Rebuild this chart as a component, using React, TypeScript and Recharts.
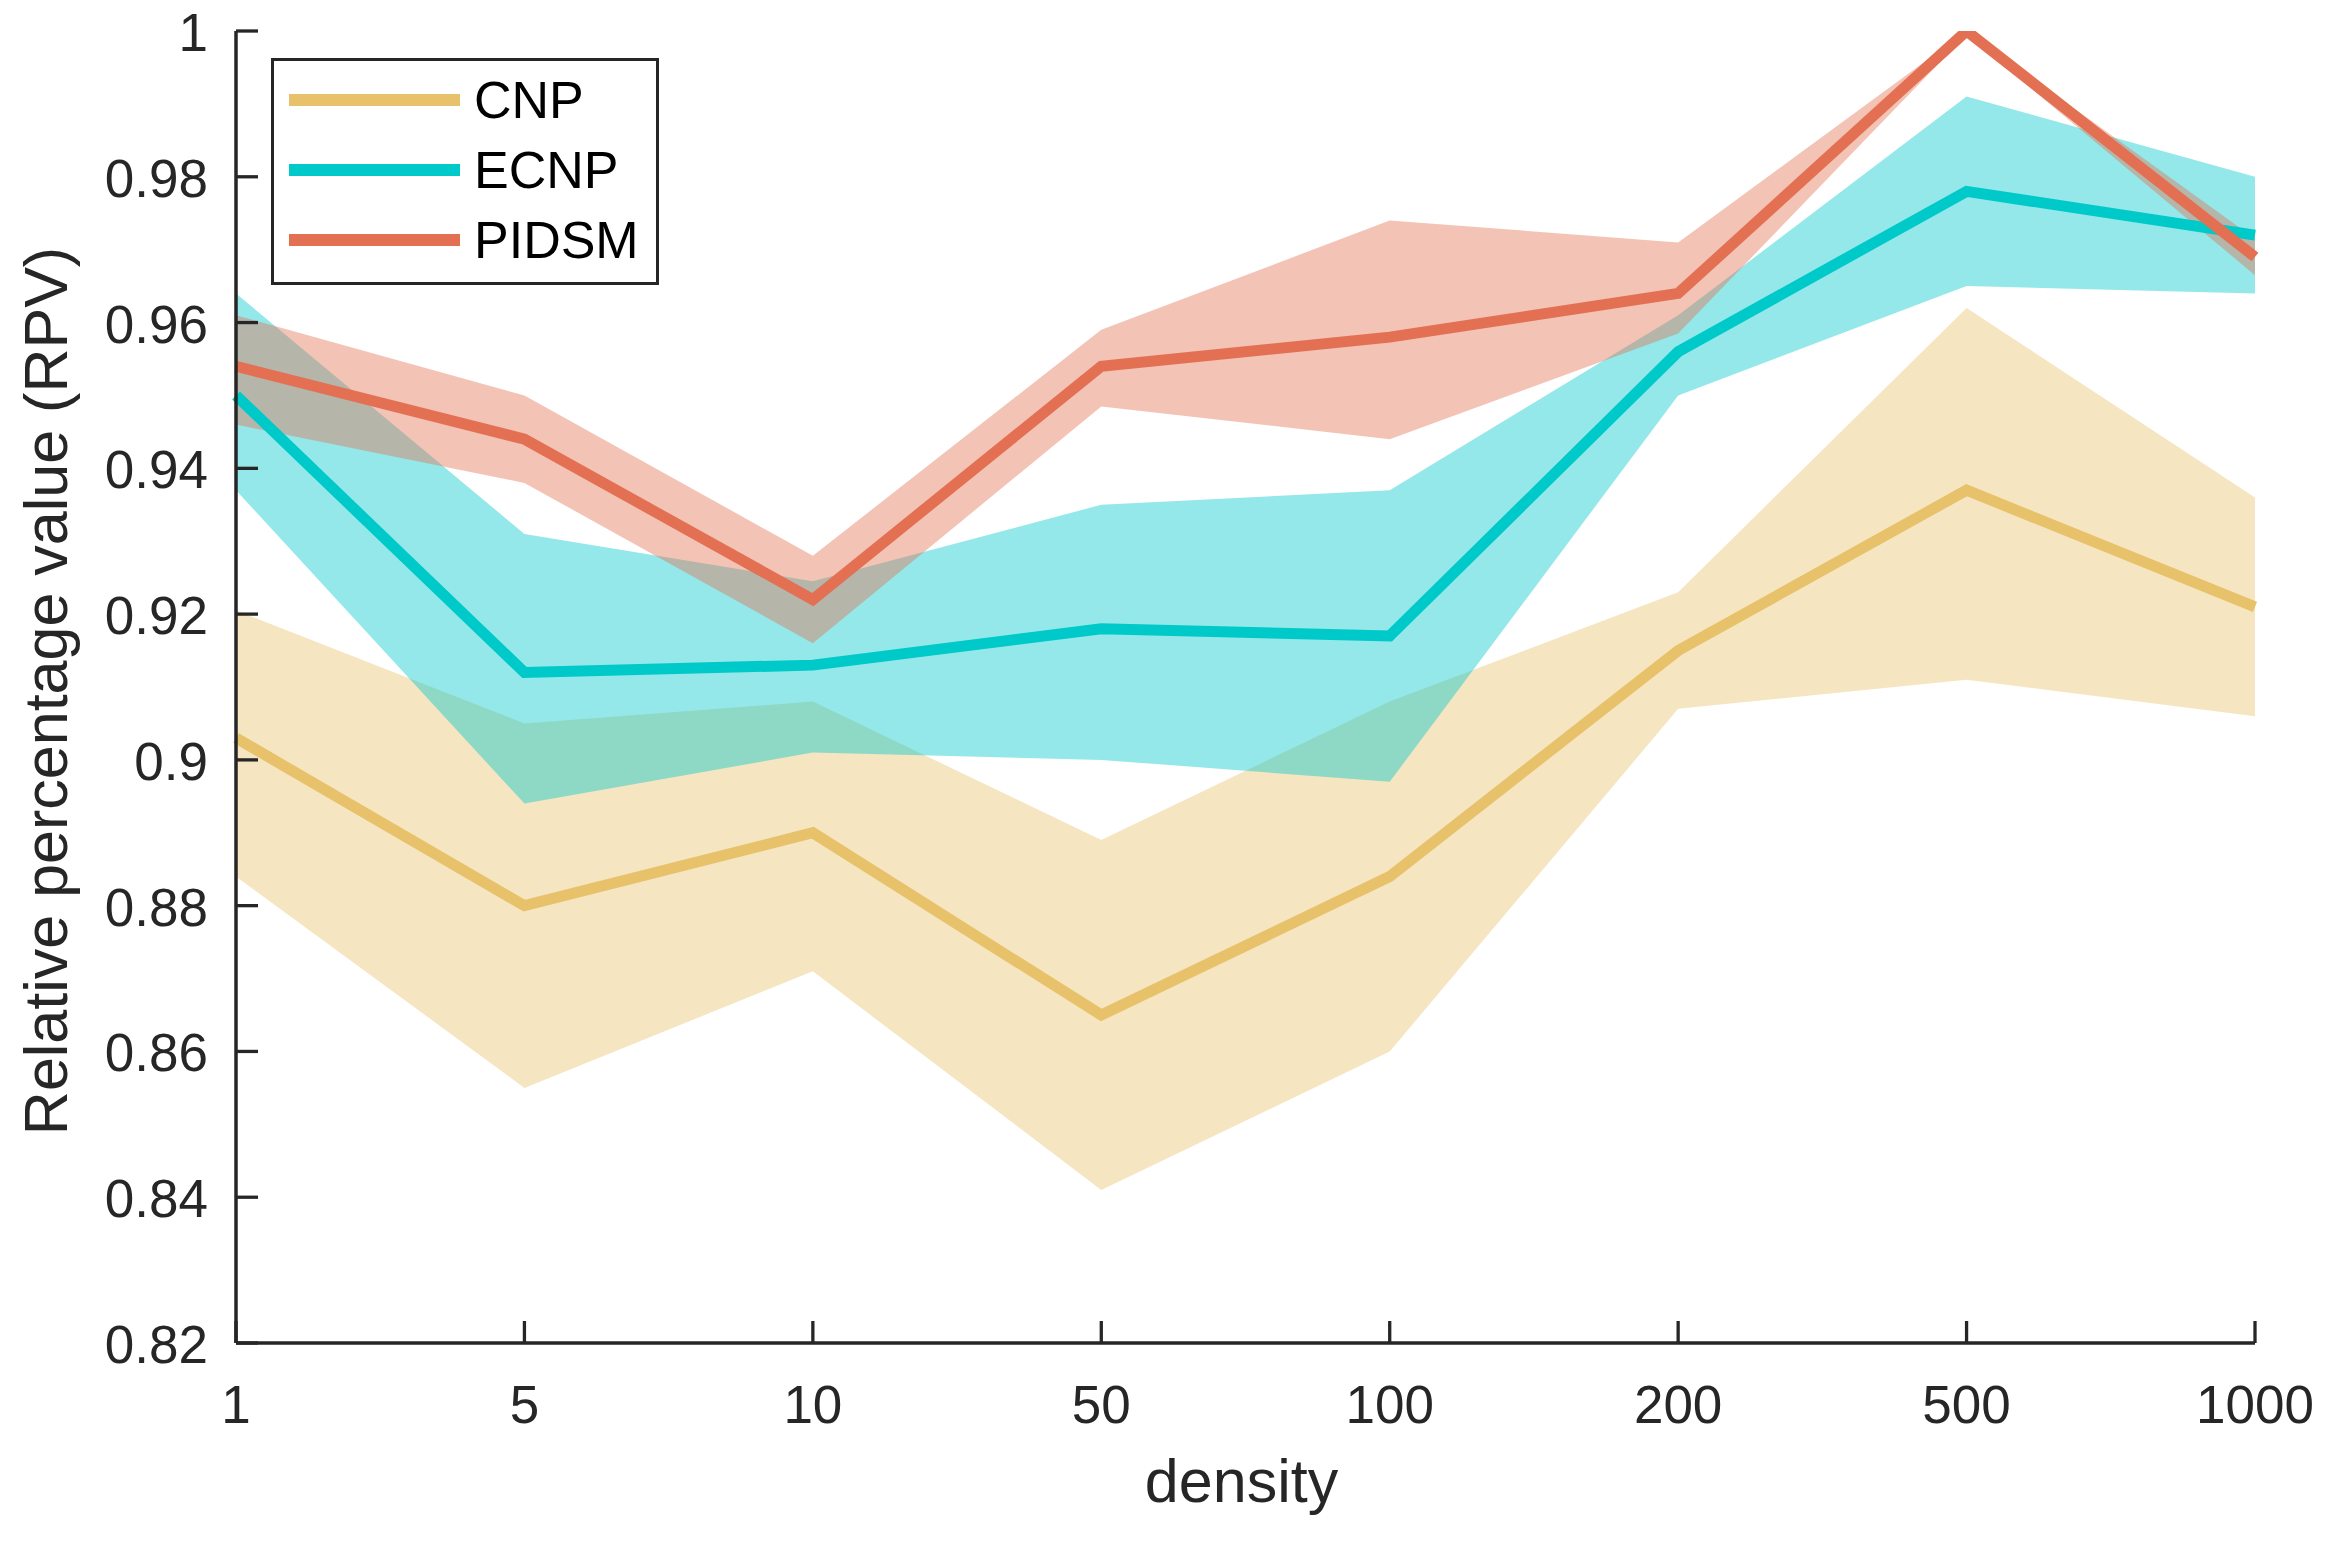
import React from 'react';
import { ComposedChart, Area, Line, XAxis, YAxis } from 'recharts';

const densities = ['1', '5', '10', '50', '100', '200', '500', '1000'];

const cnpMean = [0.903, 0.880, 0.890, 0.865, 0.884, 0.915, 0.937, 0.921];
const cnpUpper = [0.9205, 0.905, 0.908, 0.889, 0.908, 0.923, 0.962, 0.936];
const cnpLower = [0.884, 0.855, 0.871, 0.841, 0.860, 0.907, 0.911, 0.906];

const ecnpMean = [0.950, 0.912, 0.913, 0.918, 0.917, 0.956, 0.978, 0.972];
const ecnpUpper = [0.964, 0.931, 0.9245, 0.935, 0.937, 0.961, 0.991, 0.980];
const ecnpLower = [0.937, 0.894, 0.901, 0.900, 0.897, 0.950, 0.965, 0.964];

const pidsmMean = [0.954, 0.944, 0.922, 0.954, 0.958, 0.964, 1.0, 0.969];
const pidsmUpper = [0.961, 0.950, 0.928, 0.959, 0.974, 0.971, 1.0, 0.9715];
const pidsmLower = [0.946, 0.938, 0.916, 0.9485, 0.944, 0.9585, 0.9995, 0.9665];

const yTicks = [0.82, 0.84, 0.86, 0.88, 0.9, 0.92, 0.94, 0.96, 0.98, 1];
const yTickLabels = ['0.82', '0.84', '0.86', '0.88', '0.9', '0.92', '0.94', '0.96', '0.98', '1'];

const seriesNames = ['CNP', 'ECNP', 'PIDSM'];
const seriesColors = ['#E8C26B', '#00C9CA', '#E37052'];

const xLabel = 'density';
const yLabel = 'Relative percentage value (RPV)';

const data = densities.map((d, i) => ({
  density: d,
  cnp: cnpMean[i],
  cnpBand: [cnpLower[i], cnpUpper[i]],
  ecnp: ecnpMean[i],
  ecnpBand: [ecnpLower[i], ecnpUpper[i]],
  pidsm: pidsmMean[i],
  pidsmBand: [pidsmLower[i], pidsmUpper[i]],
}));

const FONT = '"Liberation Sans", Arial, Helvetica, sans-serif';
const AXIS = '#262626';

const W = 2344;
const H = 1544;
const M = { top: 31, right: 89, left: 0, bottom: 0 };
const YW = 236;
const XH = 201;
const plotLeft = M.left + YW;
const plotRight = W - M.right;
const plotTop = M.top;
const plotBottom = H - XH;

const XTick = (props: any) => {
  const { x, y, payload } = props;
  return (
    <g>
      <line x1={x} y1={y} x2={x} y2={y - 22} stroke={AXIS} strokeWidth={3.3} />
      <text x={x} y={y + 80} textAnchor="middle" fontSize={53} fontFamily={FONT} fill={AXIS}>
        {payload.value}
      </text>
    </g>
  );
};

const YTick = (props: any) => {
  const { x, y, index } = props;
  return (
    <g>
      <line x1={x} y1={y} x2={x + 22} y2={y} stroke={AXIS} strokeWidth={3.3} />
      <text x={x - 28} y={y + 20} textAnchor="end" fontSize={53} fontFamily={FONT} fill={AXIS}>
        {yTickLabels[index]}
      </text>
    </g>
  );
};

const LegendBox = () => (
  <div
    style={{
      position: 'absolute',
      left: 271,
      top: 58,
      width: 388,
      height: 227,
      border: `3.5px solid ${AXIS}`,
      boxSizing: 'border-box',
      background: '#fff',
      fontFamily: FONT,
    }}
  >
    {seriesNames.map((name, i) => (
      <React.Fragment key={name}>
        <div
          style={{
            position: 'absolute',
            left: 15,
            top: 39 + i * 70 - 6,
            width: 171,
            height: 12,
            background: seriesColors[i],
          }}
        />
        <div
          style={{
            position: 'absolute',
            left: 200,
            top: 39 + i * 70 - 30,
            height: 60,
            lineHeight: '60px',
            fontSize: 52,
            color: '#000',
            whiteSpace: 'nowrap',
          }}
        >
          {name}
        </div>
      </React.Fragment>
    ))}
  </div>
);

export default function App() {
  const labelCenterY = (plotTop + plotBottom) / 2 + 4;
  const plotCenterX = (plotLeft + plotRight) / 2;
  return (
    <div style={{ width: W, height: H, position: 'relative', background: '#fff', margin: '-8px 0 0 -8px' }}>
      <ComposedChart width={W} height={H} data={data} margin={M}>
        <XAxis
          dataKey="density"
          type="category"
          scale="point"
          padding={{ left: 0, right: 0 }}
          height={XH}
          interval={0}
          tickSize={0}
          tickMargin={0}
          tickLine={false}
          tick={<XTick />}
          axisLine={{ stroke: AXIS, strokeWidth: 3.5 }}
          label={{
            content: () => (
              <text
                x={plotCenterX - 4}
                y={1502}
                textAnchor="middle"
                fontSize={61}
                fontFamily={FONT}
                fill={AXIS}
              >
                {xLabel}
              </text>
            ),
          }}
        />
        <YAxis
          type="number"
          domain={[0.82, 1]}
          ticks={yTicks}
          interval={0}
          allowDataOverflow
          width={YW}
          tickSize={0}
          tickMargin={0}
          tickLine={false}
          tick={<YTick />}
          axisLine={{ stroke: AXIS, strokeWidth: 3.5 }}
          label={{
            content: () => (
              <text
                x={67}
                y={labelCenterY}
                transform={`rotate(-90, 67, ${labelCenterY})`}
                textAnchor="middle"
                fontSize={61}
                fontFamily={FONT}
                fill={AXIS}
              >
                {yLabel}
              </text>
            ),
          }}
        />
        <Area
          dataKey="cnpBand"
          type="linear"
          stroke="none"
          fill={seriesColors[0]}
          fillOpacity={0.42}
          isAnimationActive={false}
          activeDot={false}
          legendType="none"
        />
        <Area
          dataKey="ecnpBand"
          type="linear"
          stroke="none"
          fill={seriesColors[1]}
          fillOpacity={0.42}
          isAnimationActive={false}
          activeDot={false}
          legendType="none"
        />
        <Area
          dataKey="pidsmBand"
          type="linear"
          stroke="none"
          fill={seriesColors[2]}
          fillOpacity={0.42}
          isAnimationActive={false}
          activeDot={false}
          legendType="none"
        />
        <Line
          dataKey="cnp"
          name={seriesNames[0]}
          type="linear"
          stroke={seriesColors[0]}
          strokeWidth={11}
          dot={false}
          activeDot={false}
          isAnimationActive={false}
        />
        <Line
          dataKey="ecnp"
          name={seriesNames[1]}
          type="linear"
          stroke={seriesColors[1]}
          strokeWidth={11}
          dot={false}
          activeDot={false}
          isAnimationActive={false}
        />
        <Line
          dataKey="pidsm"
          name={seriesNames[2]}
          type="linear"
          stroke={seriesColors[2]}
          strokeWidth={11}
          dot={false}
          activeDot={false}
          isAnimationActive={false}
        />
      </ComposedChart>
      <LegendBox />
    </div>
  );
}
